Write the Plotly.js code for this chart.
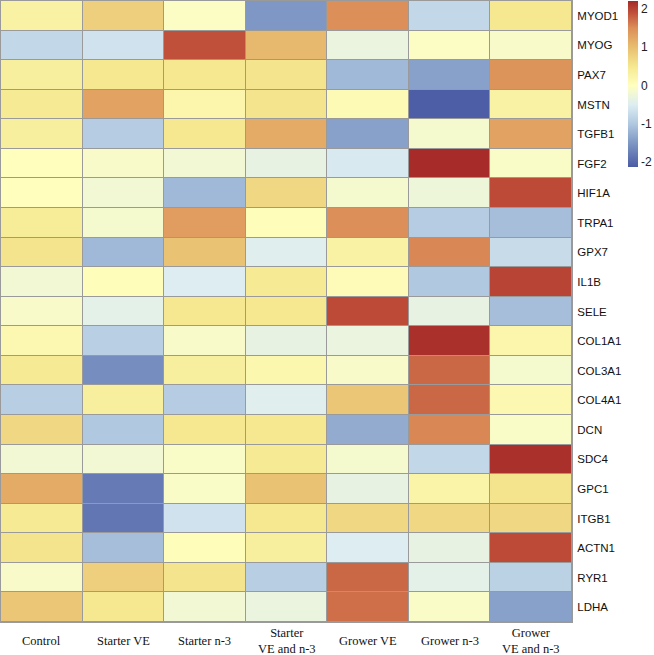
<!DOCTYPE html>
<html>
<head>
<meta charset="utf-8">
<script src="https://cdn.plot.ly/plotly-3.0.1.min.js"></script>
<style>html,body{margin:0;padding:0;background:#fff;}#chart{width:654px;height:655px;}</style>
</head>
<body>
<div id="chart"></div>
<script>
const groups = ["Control", "Starter VE", "Starter n-3", "Starter<br>VE and n-3", "Grower VE", "Grower n-3", "Grower<br>VE and n-3"];
const genes = ["MYOD1","MYOG","PAX7","MSTN","TGFB1","FGF2","HIF1A","TRPA1","GPX7","IL1B","SELE","COL1A1","COL3A1","COL4A1","DCN","SDC4","GPC1","ITGB1","ACTN1","RYR1","LDHA"];
const colorbarTicks = [-2, -1, 0, 1, 2];
const colorbarTickText = ["-2", "-1", "0", "1", "2"];

const MYOD1  = [0.3, 0.8, -0.05, -1.5, 1.5, -0.8, 0.5];
const MYOG   = [-0.8, -0.65, 1.9, 1.05, -0.3, -0.05, -0.1];
const PAX7   = [0.35, 0.5, 0.5, 0.55, -1.15, -1.4, 1.45];
const MSTN   = [0.45, 1.3, 0.2, 0.55, 0.1, -2.1, 0.3];
const TGFB1  = [0.35, -0.95, 0.5, 1.2, -1.4, -0.15, 1.3];
const FGF2   = [0.02, -0.1, -0.2, -0.35, -0.55, 2.2, -0.08];
const HIF1A  = [0.02, -0.2, -1.15, 0.7, -0.15, -0.25, 1.95];
const TRPA1  = [0.4, -0.15, 1.35, 0.05, 1.5, -0.95, -1.1];
const GPX7   = [0.55, -1.15, 0.95, -0.45, 0.3, 1.55, -0.75];
const IL1B   = [-0.2, 0.05, -0.5, 0.45, 0.08, -1.0, 2.0];
const SELE   = [-0.1, -0.4, 0.5, 0.5, 1.95, -0.35, -1.1];
const COL1A1 = [0.15, -0.9, -0.1, -0.35, -0.3, 2.15, 0.2];
const COL3A1 = [0.45, -1.6, 0.35, 0.18, -0.1, 1.75, -0.15];
const COL4A1 = [-0.92, 0.35, -0.95, -0.45, 0.9, 1.75, 0.15];
const DCN    = [0.7, -1.0, 0.5, 0.5, -1.3, 1.55, -0.08];
const SDC4   = [-0.2, -0.2, -0.08, 0.45, -0.15, -0.8, 2.15];
const GPC1   = [1.2, -1.8, -0.08, 0.95, -0.35, 0.25, 0.55];
const ITGB1  = [0.45, -1.85, -0.65, 0.5, 0.7, 0.7, 0.7];
const ACTN1  = [0.55, -1.1, 0.05, 0.35, -0.5, -0.35, 1.95];
const RYR1   = [-0.1, 0.8, 0.55, -0.92, 1.75, -0.4, -0.88];
const LDHA   = [0.9, 0.5, -0.2, -0.3, 1.7, -0.08, -1.4];

const values = [MYOD1, MYOG, PAX7, MSTN, TGFB1, FGF2, HIF1A, TRPA1, GPX7, IL1B, SELE, COL1A1, COL3A1, COL4A1, DCN, SDC4, GPC1, ITGB1, ACTN1, RYR1, LDHA];

const zmin = -2.13, zmax = 2.21;
const stops = [[-2.13,"#4B5BA5"],[-1.5,"#7E97C4"],[-1.0,"#B0C8E0"],[-0.5,"#DDEDF2"],[0,"#FFFFBF"],[0.5,"#F5E890"],[1.0,"#E8BE70"],[1.5,"#DC8F58"],[1.9,"#C0503A"],[2.21,"#A52A28"]];
const colorscale = stops.map(s => [(s[0]-zmin)/(zmax-zmin), s[1]]);

const trace = {
  type: "heatmap",
  x: groups,
  y: genes,
  z: values,
  zmin: zmin, zmax: zmax,
  colorscale: colorscale,
  xgap: 1, ygap: 1,
  hoverinfo: "none",
  colorbar: {
    thickness: 10, thicknessmode: "pixels",
    len: 166, lenmode: "pixels",
    x: 1.098, xanchor: "left", xref: "paper",
    y: 1.0, yanchor: "top",
    xpad: 0, ypad: 0,
    outlinewidth: 0,
    tickmode: "array",
    tickvals: colorbarTicks,
    ticktext: colorbarTickText,
    ticks: "",
    ticklabelpad: 4,
    tickfont: {family: "Liberation Sans, Arial, sans-serif", size: 12, color: "#222"}
  }
};

const annotations = groups.map((g) => ({
  x: g, xref: "x", y: -0.03, yref: "paper",
  text: g, showarrow: false, xanchor: "center", yanchor: "middle",
  font: {family: "Liberation Serif, Times New Roman, serif", size: 12.5, color: "#111"}
}));

const layout = {
  width: 654, height: 655,
  margin: {l: 1, r: 82, t: 1, b: 33, pad: 0},
  paper_bgcolor: "#ffffff",
  plot_bgcolor: "#9a9a9a",
  showlegend: false,
  xaxis: {showticklabels: false, ticks: "", showgrid: false, zeroline: false,
          showline: true, linecolor: "#9a9a9a", linewidth: 1, mirror: true},
  yaxis: {side: "right", autorange: "reversed", ticks: "", showgrid: false, zeroline: false,
          showline: true, linecolor: "#9a9a9a", linewidth: 1, mirror: true,
          ticklabelstandoff: 2,
          tickfont: {family: "Liberation Sans, Arial, sans-serif", size: 11.5, color: "#111"}},
  annotations: annotations
};

Plotly.newPlot("chart", [trace], layout, {displayModeBar: false, staticPlot: true});
</script>
</body>
</html>
